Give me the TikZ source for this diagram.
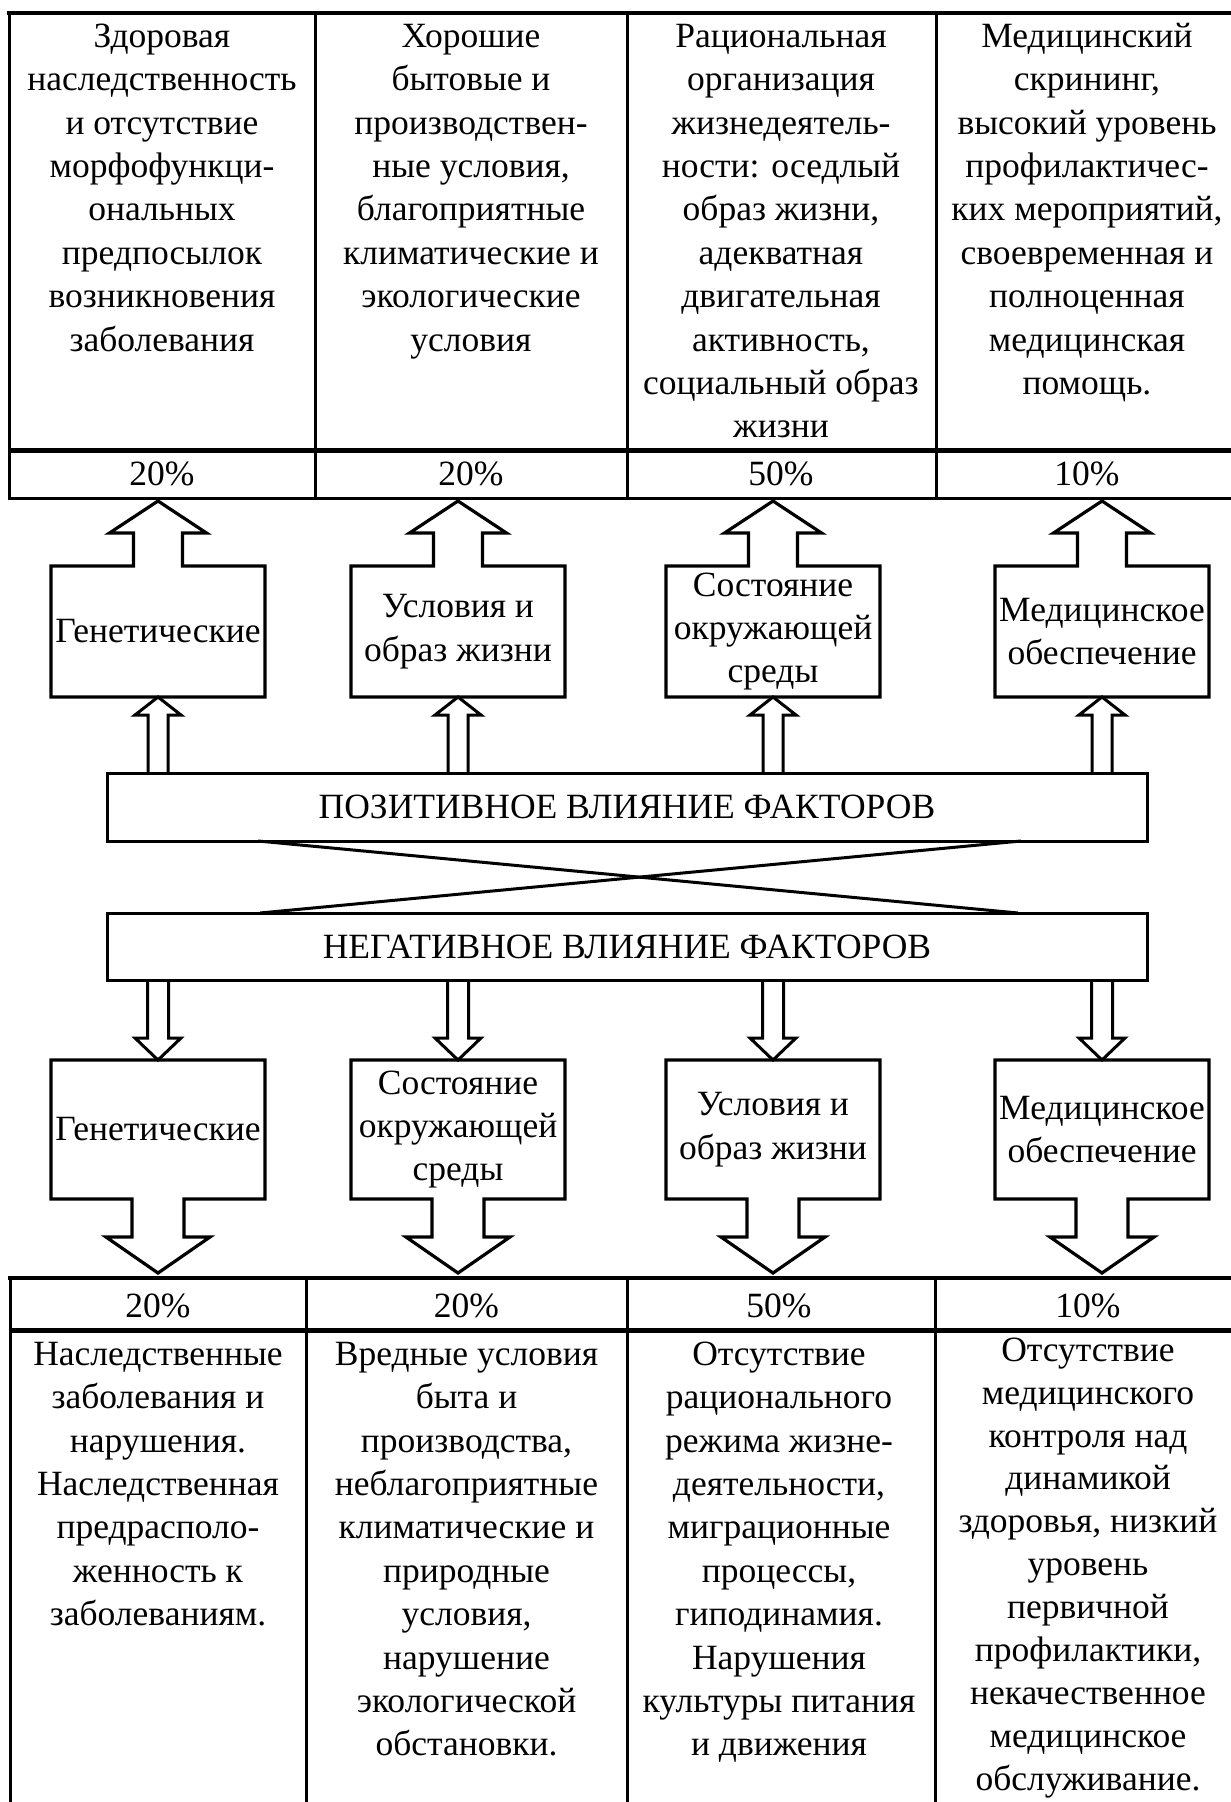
\documentclass[tikz,border=0pt]{standalone}
\usepackage{fontspec}
\setmainfont{Liberation Serif}
\usetikzlibrary{calc}
\newcommand\celltext{\fontsize{35.5}{43.4}\selectfont}
\newcommand\tighttext{\fontsize{35.5}{42.9}\selectfont}
\newcommand\fst{\rule{0pt}{30pt}}
\newcommand\upbox[1]{%
  \draw[outl] (#1.south west) -- (#1.north west) -- ($(#1.north)+(-24.5,0)$) -- ++(0,-33) -- ++(-24,0)
    -- ++(48.5,-32) -- ++(48.5,32) -- ++(-24,0) -- ++(0,33) -- (#1.north east) -- (#1.south east) -- cycle;}
\newcommand\downbox[1]{%
  \draw[outl] (#1.north west) -- (#1.south west) -- ($(#1.south)+(-26,0)$) -- ++(0,38) -- ++(-26,0)
    -- ++(52,36) -- ++(52,-36) -- ++(-26,0) -- ++(0,-38) -- (#1.south east) -- (#1.north east) -- cycle;}
\newcommand\smallup[2]{%
  \draw[hollow] ($(#1.north -| #2.south)+(-10,0)$) -- ++(0,-58) -- ++(-13,0) -- (#2.south)
    -- ++(23,18) -- ++(-13,0) -- ++(0,58);}
\newcommand\smalldown[2]{%
  \draw[hollow] ($(#1.south -| #2.north)+(-10.5,0)$) -- ++(0,58) -- ++(-12.5,0) -- (#2.north)
    -- ++(23,-22) -- ++(-12.5,0) -- ++(0,-58);}
\begin{document}
\begin{tikzpicture}[x=1pt,y=-1pt,
  every node/.style={font=\celltext},
  tline/.style={line width=3pt},
  thline/.style={line width=5pt},
  topline/.style={line width=4pt},
  cell/.style={anchor=north, inner sep=0pt, align=center},
  pct/.style={anchor=base, inner sep=0pt},
  fbox/.style={draw=none, minimum width=214pt, inner sep=0pt, outer sep=0pt, align=center},
  outl/.style={line width=3.2pt, line join=miter},
  hollow/.style={line width=3pt, line join=miter},
  banner/.style={draw, line width=3pt, minimum width=1040pt, inner sep=0pt, outer sep=0pt},
]
\useasboundingbox (0,0) rectangle (1231,1802);
\fill[white] (0,0) rectangle (1231,1802);

% ---- top table ----
\draw[topline] (7,13) -- (1231,13);
\draw[thline] (9,450) -- (1231,450);
\draw[tline] (9,498) -- (1231,498);
\foreach \x in {9,315,627,936} \draw[tline] (\x,11) -- (\x,499.5);

\node[cell] (t1) at (162,17) {\fst Здоровая\\наследственность\\и отсутствие\\морфофункци-\\ональных\\предпосылок\\возникновения\\заболевания};
\node[cell] (t2) at (471,17) {\fst Хорошие\\бытовые и\\производствен-\\ные условия,\\благоприятные\\климатические и\\экологические\\условия};
\node[cell] (t3) at (781,17) {\fst Рациональная\\организация\\жизнедеятель-\\ности: оседлый\\образ жизни,\\адекватная\\двигательная\\активность,\\социальный образ\\жизни};
\node[cell] (t4) at (1087,17) {\fst Медицинский\\скрининг,\\высокий уровень\\профилактичес-\\ких мероприятий,\\своевременная и\\полноценная\\медицинская\\помощь.};

\node[pct] (p1) at (162,485) {20\%};
\node[pct] (p2) at (471,485) {20\%};
\node[pct] (p3) at (781,485) {50\%};
\node[pct] (p4) at (1087,485) {10\%};

% ---- upper boxes ----
\node[fbox, minimum height=131pt] (ua) at (158,631.5) {Генетические};
\node[fbox, minimum height=131pt] (ub) at (458,631.5) {Условия и\\образ жизни};
\node[fbox, minimum height=131pt] (uc) at (773,631.5) {Состояние\\окружающей\\среды};
\node[fbox, minimum height=131pt] (ud) at (1102,631.5) {Медицинское\\обеспечение};
\upbox{ua}\upbox{ub}\upbox{uc}\upbox{ud}

% ---- banners ----
\node[banner, minimum height=68pt] (pos) at (627,807) {ПОЗИТИВНОЕ ВЛИЯНИЕ ФАКТОРОВ};
\node[banner, minimum height=67pt] (neg) at (627,946.5) {НЕГАТИВНОЕ ВЛИЯНИЕ ФАКТОРОВ};
\coordinate (c1) at ($(pos.south west)+(151,0)$);
\coordinate (c2) at ($(pos.south west)+(914,0)$);
\coordinate (c3) at ($(neg.north west)+(153,0)$);
\coordinate (c4) at ($(neg.north west)+(911,0)$);
\draw[tline] (c1) -- (c4);
\draw[tline] (c3) -- (c2);

\smallup{pos}{ua}\smallup{pos}{ub}\smallup{pos}{uc}\smallup{pos}{ud}

% ---- lower boxes ----
\node[fbox, minimum height=139pt] (la) at (158,1129.5) {Генетические};
\node[fbox, minimum height=139pt] (lb) at (458,1129.5) {Состояние\\окружающей\\среды};
\node[fbox, minimum height=139pt] (lc) at (773,1129.5) {Условия и\\образ жизни};
\node[fbox, minimum height=139pt] (ld) at (1102,1129.5) {Медицинское\\обеспечение};
\downbox{la}\downbox{lb}\downbox{lc}\downbox{ld}

\smalldown{neg}{la}\smalldown{neg}{lb}\smalldown{neg}{lc}\smalldown{neg}{ld}

% ---- bottom table ----
\draw[topline] (8,1278) -- (1231,1278);
\draw[thline] (10,1330) -- (1231,1330);
\foreach \x in {10,306,627,935} \draw[tline] (\x,1276) -- (\x,1802);

\node[pct] (q1) at (158,1317) {20\%};
\node[pct] (q2) at (466.5,1317) {20\%};
\node[pct] (q3) at (779,1317) {50\%};
\node[pct] (q4) at (1088,1317) {10\%};

\node[cell] (b1) at (158,1335) {\fst Наследственные\\заболевания и\\нарушения.\\Наследственная\\предрасполо-\\женность к\\заболеваниям.};
\node[cell] (b2) at (466.5,1335) {\fst Вредные условия\\быта и\\производства,\\неблагоприятные\\климатические и\\природные\\условия,\\нарушение\\экологической\\обстановки.};
\node[cell] (b3) at (779,1335) {\fst Отсутствие\\рационального\\режима жизне-\\деятельности,\\миграционные\\процессы,\\гиподинамия.\\Нарушения\\культуры питания\\и движения};
\node[cell, font=\tighttext] (b4) at (1088,1331) {\fst Отсутствие\\медицинского\\контроля над\\динамикой\\здоровья, низкий\\уровень\\первичной\\профилактики,\\некачественное\\медицинское\\обслуживание.};
\end{tikzpicture}
\end{document}
